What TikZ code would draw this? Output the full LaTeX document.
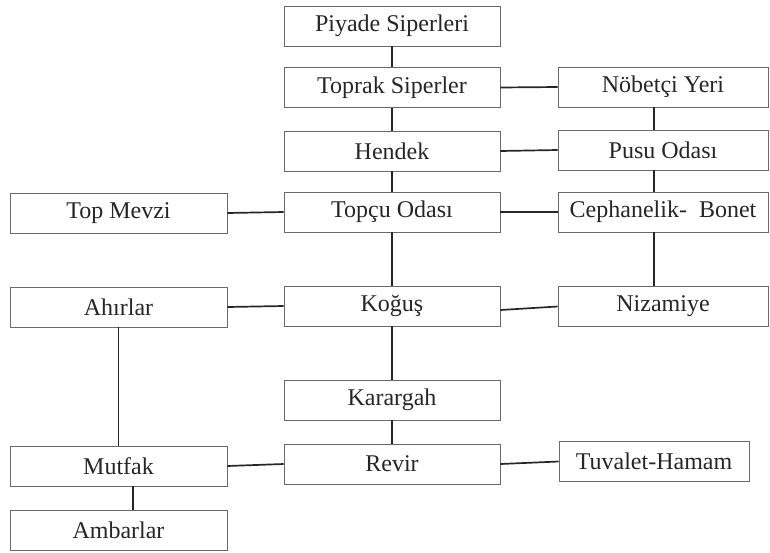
\documentclass[tikz,border=0pt]{standalone}
\usepackage{fontspec}
\setmainfont{Liberation Serif}
\usepackage{xcolor}
\usetikzlibrary{positioning}

\definecolor{boxline}{HTML}{6A6A6A}
\definecolor{textgray}{HTML}{262626}

\begin{document}
\begin{tikzpicture}[
  x=1pt, y=-1pt,
  room/.style={draw=boxline, line width=0.9pt, inner sep=0pt, minimum height=40pt,
    text=textgray, font=\fontsize{24}{26}\selectfont},
  midroom/.style={room, minimum width=216pt},
  siderom/.style={room, minimum width=210pt},
  leftroom/.style={room, minimum width=217pt},
  link/.style={black!85, line width=1.7pt},
]
\useasboundingbox (0,0) rectangle (770,552);

% Center column
\node[midroom] (piyade) at (392,26) {Piyade Siperleri};
\node[midroom] (toprak) at (392,87.5) {Toprak Siperler};
\node[midroom] (hendek) at (392,151) {Hendek};
\node[midroom] (topcu) at (392,212) {Topçu Odası};
\node[midroom] (kogus) at (392,306) {Koğuş};
\node[midroom] (karargah) at (392,400) {Karargah};
\node[midroom] (revir) at (392,464) {Revir};

% Right column
\node[siderom] (nobet) at (663,87) {Nöbetçi Yeri};
\node[siderom] (pusu) at (663,150) {Pusu Odası};
\node[siderom] (cephane) at (663,212) {Cephanelik-\ \ Bonet};
\node[siderom] (nizam) at (663,306.5) {Nizamiye};
\node[room, minimum width=190pt] (tuvalet) at (654,461.5) {Tuvalet-Hamam};

% Left column
\node[leftroom] (topmevzi) at (118.5,213) {Top Mevzi};
\node[leftroom] (ahir) at (118.5,307) {Ahırlar};
\node[leftroom] (mutfak) at (118.5,466) {Mutfak};
\node[leftroom] (ambar) at (118.5,530) {Ambarlar};

% Vertical links
\draw[link] (piyade) -- (toprak);
\draw[link] (toprak) -- (hendek);
\draw[link] (hendek) -- (topcu);
\draw[link] (topcu) -- (kogus);
\draw[link] (kogus) -- (karargah);
\draw[link] (karargah) -- (revir);
\draw[link] ([xshift=-9pt]nobet.south) -- ([xshift=-9pt]pusu.north);
\draw[link] ([xshift=-9pt]pusu.south) -- ([xshift=-9pt]cephane.north);
\draw[link] ([xshift=-9pt]cephane.south) -- ([xshift=-9pt]nizam.north);
\draw[link] (ahir) -- (mutfak);
\draw[link] ([xshift=14.5pt]mutfak.south) -- ([xshift=14.5pt]ambar.north);

% Horizontal links
\draw[link] (toprak.east) -- (nobet.west);
\draw[link] (hendek.east) -- (pusu.west);
\draw[link] (topcu.east) -- (cephane.west);
\draw[link] ([yshift=-4pt]kogus.east) -- (nizam.west);
\draw[link] (topmevzi.east) -- (topcu.west);
\draw[link] (ahir.east) -- (kogus.west);
\draw[link] (mutfak.east) -- (revir.west);
\draw[link] (revir.east) -- (tuvalet.west);
\end{tikzpicture}
\end{document}
